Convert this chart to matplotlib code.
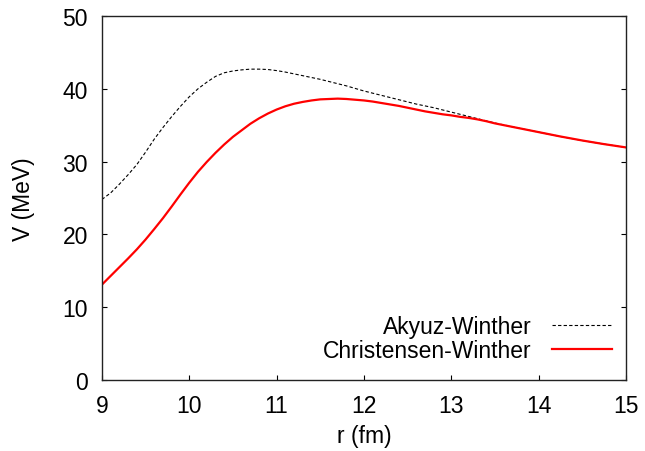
import matplotlib
matplotlib.use('Agg')
import matplotlib.pyplot as plt

plt.rcParams['font.family'] = ['Liberation Sans', 'DejaVu Sans']

# radius (fm)
r = [9.0, 9.1, 9.2, 9.3, 9.4, 9.5, 9.6, 9.7, 9.8, 9.9,
     10.0, 10.1, 10.2, 10.3, 10.4, 10.5, 10.6, 10.7, 10.8, 10.9,
     11.0, 11.1, 11.2, 11.3, 11.4, 11.5, 11.6, 11.7, 11.8, 11.9,
     12.0, 12.1, 12.2, 12.3, 12.4, 12.5, 12.6, 12.7, 12.8, 12.9,
     13.0, 13.1, 13.2, 13.3, 13.4, 13.5, 13.75, 14.0, 14.25, 14.5,
     14.75, 15.0]

# potential (MeV)
akyuz = [24.8, 25.7, 26.9, 28.2, 29.6, 31.3, 33.1, 34.7, 36.2, 37.6,
         38.9, 40.0, 40.9, 41.7, 42.2, 42.45, 42.6, 42.7, 42.7, 42.65,
         42.5, 42.3, 42.05, 41.8, 41.55, 41.3, 41.0, 40.7, 40.4, 40.05,
         39.7, 39.4, 39.1, 38.8, 38.5, 38.2, 37.9, 37.65, 37.4, 37.1,
         36.8, 36.5, 36.2, 35.9, 35.6, 35.3, 34.65, 34.05, 33.45, 32.9,
         32.4, 31.95]

christensen = [13.1, 14.3, 15.5, 16.7, 17.95, 19.3, 20.75, 22.25, 23.85, 25.5,
               27.1, 28.6, 29.95, 31.2, 32.35, 33.4, 34.3, 35.2, 35.95, 36.6,
               37.15, 37.6, 37.95, 38.2, 38.4, 38.55, 38.6, 38.65, 38.6, 38.5,
               38.4, 38.25, 38.05, 37.85, 37.65, 37.4, 37.15, 36.9, 36.7, 36.5,
               36.35, 36.15, 36.0, 35.8, 35.55, 35.25, 34.65, 34.05, 33.45, 32.9,
               32.4, 31.95]

xticks = [9, 10, 11, 12, 13, 14, 15]
yticks = [0, 10, 20, 30, 40, 50]

fig = plt.figure(figsize=(6.45, 4.52), dpi=100)
ax = fig.add_axes([0.158, 0.157, 0.8125, 0.8054])

ax.plot(r, akyuz, color='black', lw=0.8, dashes=(3, 2), label='Akyuz-Winther')
ax.plot(r, christensen, color='red', lw=1.6, label='Christensen-Winther')

ax.set_xlim(9, 15)
ax.set_ylim(0, 50)
ax.set_xticks(xticks)
ax.set_yticks(yticks)
ax.tick_params(direction='in', length=3.6, width=0.8, labelsize=16.5, pad=10,
               right=True, top=False, colors='black')
ax.tick_params(axis='x', pad=10)
for s in ax.spines.values():
    s.set_linewidth(1.0)
    s.set_color('#222222')

ax.set_xlabel('r (fm)', fontsize=16.5, labelpad=5)
ax.set_ylabel('V (MeV)', fontsize=16.5, labelpad=20)

ax.legend(loc='lower right', bbox_to_anchor=(0.99, 0.024), frameon=False,
          markerfirst=False, fontsize=16.5, handlelength=2.6, handletextpad=0.9,
          labelspacing=0.05, borderaxespad=0)

fig.savefig('out.png', dpi=100)
